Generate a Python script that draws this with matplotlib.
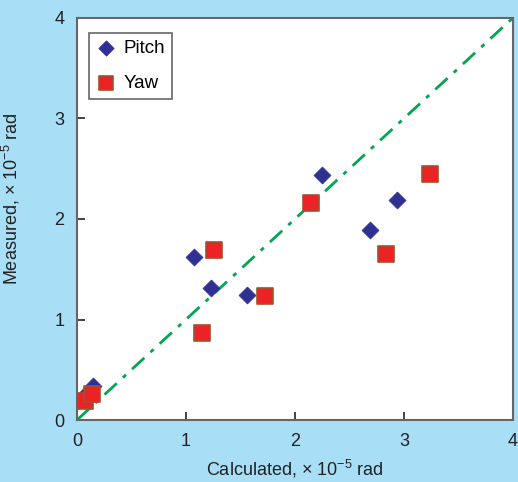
import matplotlib
matplotlib.use('Agg')
import matplotlib.pyplot as plt

plt.rcParams['font.family'] = ['Liberation Sans', 'DejaVu Sans']
plt.rcParams['mathtext.fontset'] = 'custom'
plt.rcParams['mathtext.rm'] = 'Liberation Sans'

# values, units of 1e-5 rad
pitch_calc = [0.07, 0.15, 1.07, 1.23, 1.56, 2.25, 2.69, 2.94]
pitch_meas = [0.25, 0.34, 1.62, 1.31, 1.24, 2.44, 1.89, 2.19]
yaw_calc = [0.07, 0.14, 1.15, 1.26, 1.73, 2.15, 2.84, 3.24]
yaw_meas = [0.19, 0.26, 0.87, 1.69, 1.23, 2.16, 1.65, 2.45]
ticks = [0, 1, 2, 3, 4]

bg = '#a9def7'
fig = plt.figure(figsize=(5.18, 4.82), dpi=100, facecolor=bg)
ax = fig.add_axes([0.1486, 0.1286, 0.8414, 0.8341])

ax.plot([0, 4], [0, 4], color='#00a651', lw=2, linestyle=(0, (6, 3, 1.5, 3)), zorder=1)
ax.scatter(pitch_calc, pitch_meas, marker='D', s=75, color='#2e3192', edgecolor='#2e3192',
           lw=0.5, label='Pitch', zorder=3)
ax.scatter(yaw_calc, yaw_meas, marker='s', s=120, color='#ec2227', edgecolor='#a0522d',
           lw=1.2, label='Yaw', zorder=3)

ax.set_xlim(0, 4)
ax.set_ylim(0, 4)
ax.set_xticks(ticks)
ax.set_yticks(ticks)
ax.tick_params(direction='in', length=6, width=1.2, labelsize=13, colors='#222222', pad=9)
for s in ax.spines.values():
    s.set_color('#666666')
    s.set_linewidth(1.5)

ax.set_xlabel(r'Calculated, $\times$ 10$^{-5}$ rad', fontsize=13, color='#222222', labelpad=6)
ax.set_ylabel(r'Measured, $\times$ 10$^{-5}$ rad', fontsize=13, color='#222222')
ax.yaxis.set_label_coords(-0.126, 0.55)

leg = ax.legend(loc='upper left', bbox_to_anchor=(0.0275, 0.963), fontsize=13.5, fancybox=False,
                edgecolor='#666666', handletextpad=0.4, labelspacing=1.0, borderpad=0.35,
                handlelength=1.1, borderaxespad=0, framealpha=1, markerscale=0.9)
leg.get_frame().set_linewidth(1.2)

plt.savefig('out.png', dpi=100, facecolor=bg)
